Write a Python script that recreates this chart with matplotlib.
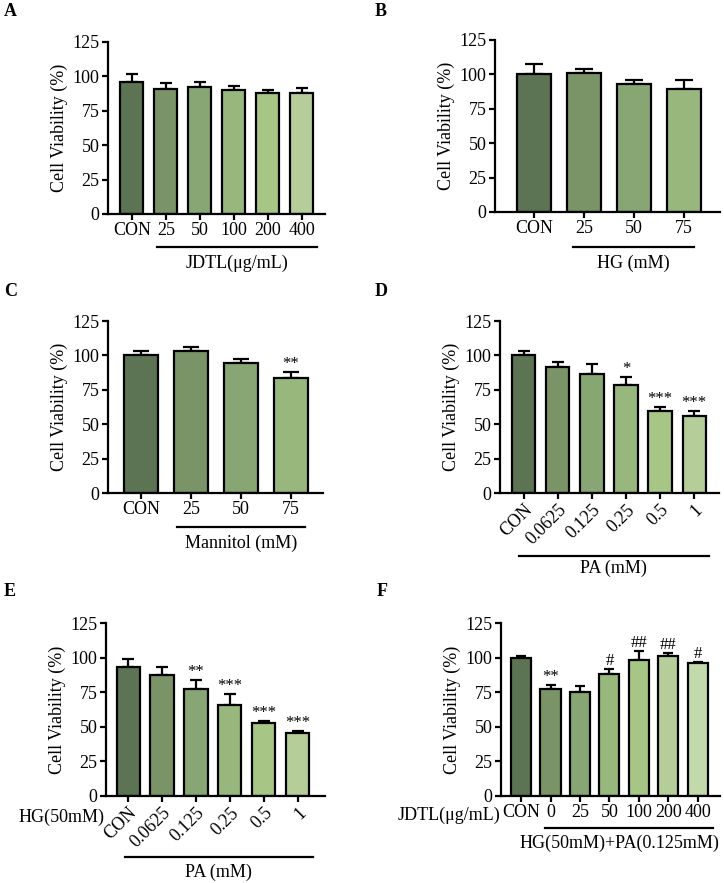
import numpy as np
import matplotlib
matplotlib.use("Agg")
import matplotlib.pyplot as plt
from matplotlib.transforms import offset_copy

plt.rcParams['font.family'] = ['Liberation Serif', 'DejaVu Serif']

# ---- data ----
a_labels = ['CON', '25', '50', '100', '200', '400']
a_mean = [95.9, 90.8, 92.5, 89.9, 87.7, 87.7]
a_err = [6.0, 4.4, 3.7, 2.9, 2.2, 3.9]
a_sig = ['', '', '', '', '', '']

b_labels = ['CON', '25', '50', '75']
b_mean = [100.3, 101.0, 93.0, 89.6]
b_err = [7.0, 2.9, 2.7, 6.1]
b_sig = ['', '', '', '']

c_labels = ['CON', '25', '50', '75']
c_mean = [100.1, 103.2, 94.3, 83.7]
c_err = [3.1, 2.9, 3.4, 4.1]
c_sig = ['', '', '', '**']

d_labels = ['CON', '0.0625', '0.125', '0.25', '0.5', '1']
d_mean = [100.4, 91.5, 86.7, 78.4, 59.7, 56.3]
d_err = [2.9, 3.9, 7.2, 6.0, 2.7, 3.4]
d_sig = ['', '', '', '*', '***', '***']

e_labels = ['CON', '0.0625', '0.125', '0.25', '0.5', '1']
e_mean = [93.3, 87.3, 77.6, 66.1, 52.9, 45.2]
e_err = [6.0, 6.2, 6.0, 7.9, 1.2, 1.7]
e_sig = ['', '', '**', '***', '***', '***']

f_labels = ['CON', '0', '25', '50', '100', '200', '400']
f_mean = [100.0, 77.2, 75.0, 88.5, 98.1, 101.0, 96.4]
f_err = [1.0, 3.3, 4.6, 3.1, 7.0, 2.1, 0.5]
f_sig = ['', '**', '', '#', '##', '##', '#']

palette = ['#5c7454', '#7a9468', '#87a673', '#98b77d', '#a7c584', '#b5cd98', '#c2d9ab']

W, H = 724, 883
fig = plt.figure(figsize=(W / 100, H / 100), dpi=100)


def panel(rect_px, letter, letter_xy, labels, mean, err, sig, xlim, capsize,
          group, line_x, line_dy, label_dy, rotate=False, side=None, label_shift=0.0):
    l, r, t, b = rect_px
    ax = fig.add_axes([l / W, 1 - b / H, (r - l) / W, (b - t) / H])
    x = np.arange(len(labels))
    ax.bar(x, mean, width=0.68, color=palette[:len(labels)], edgecolor='black',
           linewidth=1.6, zorder=2)
    ax.errorbar(x, mean, yerr=[np.zeros(len(x)), err], fmt='none', ecolor='black',
                elinewidth=1.6, capsize=capsize, capthick=1.6, zorder=1)
    for i, s in enumerate(sig):
        if s:
            ax.annotate(s, xy=(i, mean[i] + err[i]), xytext=(0, 0), textcoords='offset points',
                        ha='center', va='bottom', fontsize=12)
    ax.set_ylim(0, 125)
    ax.set_yticks([0, 25, 50, 75, 100, 125])
    ax.set_xlim(*xlim)
    ax.set_xticks(x)
    if rotate:
        ax.set_xticklabels(labels, rotation=45, ha='right', va='top', rotation_mode='anchor')
    else:
        ax.set_xticklabels(labels)
    for sp in ['top', 'right']:
        ax.spines[sp].set_visible(False)
    for sp in ['left', 'bottom']:
        ax.spines[sp].set_linewidth(1.6)
    ax.tick_params(axis='both', labelsize=13, width=1.6, length=4, pad=2)
    ax.set_ylabel('Cell Viability (%)', fontsize=13, labelpad=3)

    # group bar and its caption under the tick labels
    tr_line = offset_copy(ax.get_xaxis_transform(), fig=fig, y=-line_dy, units='dots')
    ax.plot(line_x, [0, 0], color='black', lw=1.6, transform=tr_line, clip_on=False)
    tr_text = offset_copy(ax.get_xaxis_transform(), fig=fig, y=-label_dy, units='dots')
    ax.text(np.mean(line_x) + label_shift, 0, group, transform=tr_text,
            ha='center', va='center', fontsize=13)
    if side:
        ax.annotate(side[0], xy=(0, 0), xycoords='axes fraction', xytext=(-1, -side[1]),
                    textcoords='offset pixels', ha='right', va='center', fontsize=13)
    fig.text(letter_xy[0] / W, 1 - letter_xy[1] / H, letter, fontsize=13,
             fontweight='bold', ha='left', va='center')
    return ax


panel((108, 325, 42, 214), 'A', (4, 12), a_labels, a_mean, a_err, a_sig,
      (-0.7, 5.68), 4, 'JDTL(μg/mL)', (0.73, 5.44), 33, 49)
panel((495, 720, 40, 212), 'B', (375, 12), b_labels, b_mean, b_err, b_sig,
      (-0.78, 3.72), 6.5, 'HG (mM)', (0.78, 3.2), 35, 51)
panel((108, 323, 321, 493), 'C', (4, 291), c_labels, c_mean, c_err, c_sig,
      (-0.66, 3.64), 6, 'Mannitol (mM)', (0.72, 3.28), 34, 50)
panel((500, 719, 321, 493), 'D', (375, 291), d_labels, d_mean, d_err, d_sig,
      (-0.7, 5.73), 4, 'PA (mM)', (-0.15, 5.44), 63, 75, rotate=True)
panel((106, 325, 623, 796), 'E', (4, 591), e_labels, e_mean, e_err, e_sig,
      (-0.65, 5.8), 4, 'PA (mM)', (-0.1, 5.44), 61, 76, rotate=True,
      side=('HG(50mM)', 21))
panel((501, 720, 623, 796), 'F', (377, 591), f_labels, f_mean, f_err, f_sig,
      (-0.68, 6.75), 3.5, 'HG(50mM)+PA(0.125mM)', (0.81, 6.5), 32, 47,
      side=('JDTL(μg/mL)', 19), label_shift=-0.3)

fig.savefig('out.png', dpi=100)
